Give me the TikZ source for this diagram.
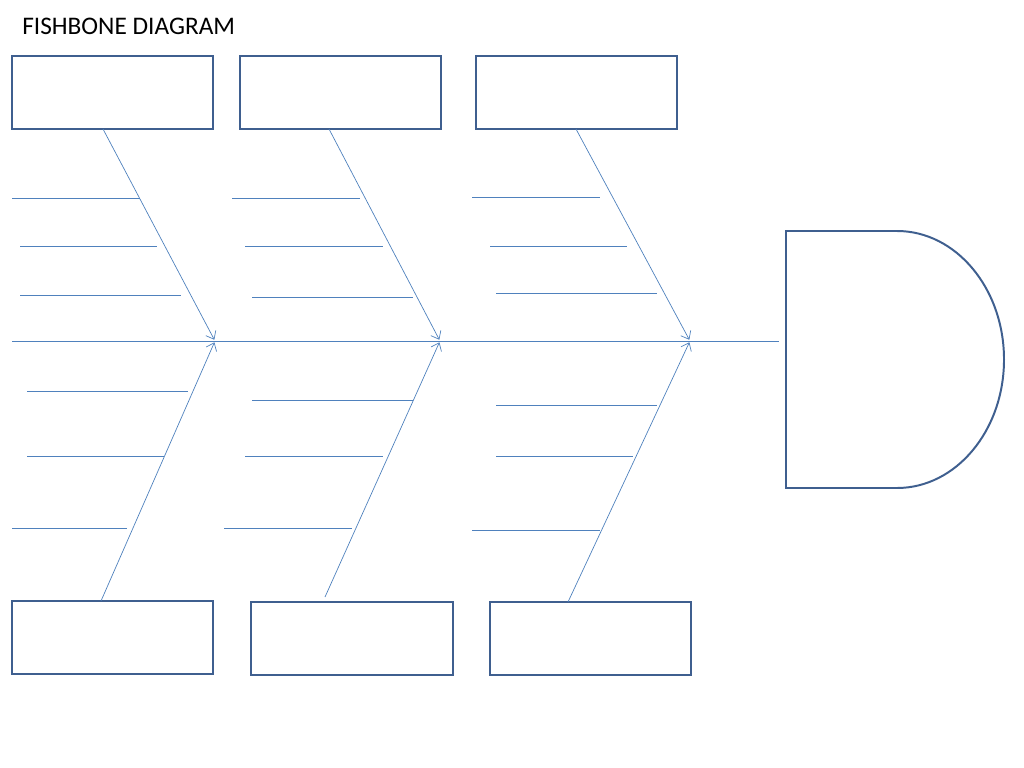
\documentclass[tikz,border=0pt]{standalone}
\usepackage{fontspec}
\setmainfont{Carlito}
\usetikzlibrary{positioning,arrows.meta}
\definecolor{boxblue}{HTML}{3F5F8F}
\definecolor{lineblue}{HTML}{4F81BD}
\begin{document}
\begin{tikzpicture}[x=0.025cm,y=-0.025cm,
  cause box/.style={draw=boxblue,line width=1.4pt,minimum width=5.025cm,minimum height=1.825cm,inner sep=0pt},
  bone/.style={draw=lineblue,line width=0.5pt},
  bone arrow/.style={bone,-{Straight Barb[length=5pt,width=8pt]},shorten >=1pt}]
    \useasboundingbox (0,0) rectangle (1024,768);
    \node[anchor=west,inner sep=0pt,font=\fontsize{18}{21}\selectfont] (title) at (22,26) {FISHBONE DIAGRAM};

    % cause boxes
    \node[cause box] (t1) at (112.5,92.5) {};
    \node[cause box] (t2) at (340.5,92.5) {};
    \node[cause box] (t3) at (576.5,92.5) {};
    \node[cause box] (b1) at (112.5,637.5) {};
    \node[cause box] (b2) at (352,638.5) {};
    \node[cause box] (b3) at (590.5,638.5) {};

    % head
    \draw[boxblue,line width=1.4pt] (786,231) -- (897,231) arc[start angle=90,end angle=-90,x radius=107,y radius=-128.5] -- (786,488) -- cycle;

    % spine
    \coordinate (s0) at (12,341);
    \coordinate (j1) at (215,341);
    \coordinate (j2) at (440,341);
    \coordinate (j3) at (690,341);
    \coordinate (s4) at (779,341);
    \draw[bone] (s0) -- (s4);
    \draw[bone arrow] (103,129) -- (j1);
    \draw[bone arrow] (329,129) -- (j2);
    \draw[bone arrow] (576,129) -- (j3);
    \draw[bone arrow] (101,601) -- (j1);
    \draw[bone arrow] (325,597) -- (j2);
    \draw[bone arrow] (568,602) -- (j3);

    % ribs
    \foreach \y/\a/\b in {198/12/140, 246/20/157, 295/20/181, 391/27/188, 456/27/164, 528/12/127,
                          198/232/360, 246/245/383, 297/252/413, 400/252/413, 456/245/383, 528/224/352,
                          197/472/600, 246/490/627, 293/496/657, 405/496/657, 456/496/633, 530/472/600}
        \draw[bone] (\a,\y) -- (\b,\y);
\end{tikzpicture}
\end{document}
